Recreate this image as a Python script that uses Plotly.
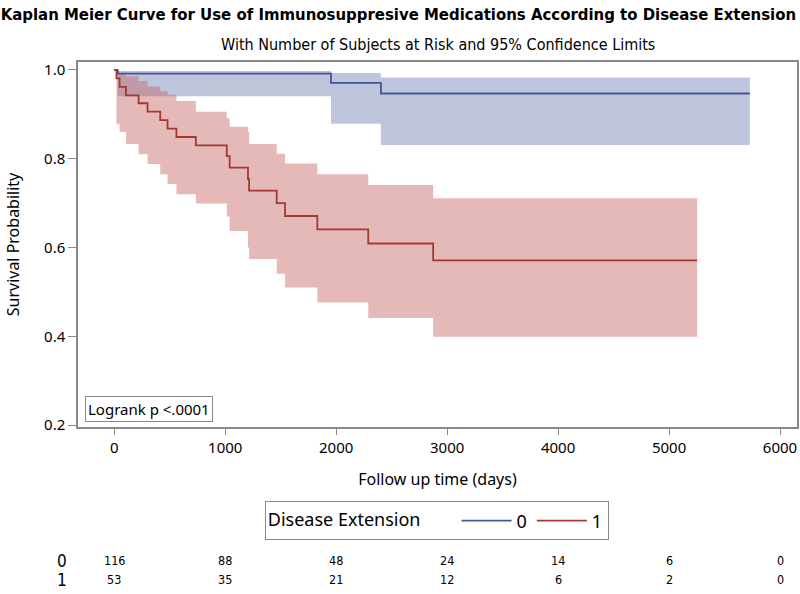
import plotly.graph_objects as go

# ---- data ----
# Group 0 (Disease Extension = 0)
times0 = [0, 30, 1953, 2403, 5728]
surv0 = [1.0, 0.992, 0.971, 0.947, 0.947]
upper0 = [1.0, 0.998, 0.993, 0.983, 0.983]
lower0 = [1.0, 0.941, 0.879, 0.831, 0.831]

# Group 1 (Disease Extension = 1)
times1 = [0, 20, 48, 105, 219, 300, 414, 480, 560, 735, 1014, 1040, 1205, 1215,
          1464, 1539, 1830, 2289, 2874, 5253]
surv1 = [1.0, 0.981, 0.962, 0.943, 0.925, 0.906, 0.887, 0.868, 0.849, 0.830,
         0.806, 0.780, 0.754, 0.728, 0.700, 0.671, 0.641, 0.609, 0.571, 0.571]
upper1 = [1.0, 0.997, 0.993, 0.986, 0.975, 0.963, 0.952, 0.944, 0.930, 0.906,
          0.891, 0.872, 0.860, 0.833, 0.811, 0.789, 0.765, 0.741, 0.711, 0.711]
lower1 = [1.0, 0.878, 0.860, 0.833, 0.810, 0.788, 0.765, 0.743, 0.720, 0.699,
          0.670, 0.637, 0.600, 0.574, 0.541, 0.510, 0.476, 0.441, 0.399, 0.399]

# Number at risk table
risk_times = [0, 1000, 2000, 3000, 4000, 5000, 6000]
risk0 = [116, 88, 48, 24, 14, 6, 0]
risk1 = [53, 35, 21, 12, 6, 2, 0]

x_ticks = [0, 1000, 2000, 3000, 4000, 5000, 6000]
y_ticks = [0.2, 0.4, 0.6, 0.8, 1.0]

BLUE_LINE = "#445694"
RED_LINE = "#A23A2E"
BLUE_FILL = "rgba(111,126,179,0.45)"
RED_FILL = "rgba(200,100,100,0.45)"
FONT = "Noto Sans"
NARROW = "DejaVu Sans Condensed"

fig = go.Figure()

# Confidence bands
for t, lo, hi, fillc in [(times0, lower0, upper0, BLUE_FILL),
                         (times1, lower1, upper1, RED_FILL)]:
    fig.add_trace(go.Scatter(x=t, y=lo, mode="lines", line=dict(width=0, shape="hv"),
                             showlegend=False, hoverinfo="skip"))
    fig.add_trace(go.Scatter(x=t, y=hi, mode="lines", line=dict(width=0, shape="hv"),
                             fill="tonexty", fillcolor=fillc, showlegend=False,
                             hoverinfo="skip"))

# Survival curves
fig.add_trace(go.Scatter(x=times0, y=surv0, mode="lines", name="0",
                         line=dict(color=BLUE_LINE, width=1.8, shape="hv")))
fig.add_trace(go.Scatter(x=times1, y=surv1, mode="lines", name="1",
                         line=dict(color=RED_LINE, width=1.8, shape="hv")))

annotations = []
# Subtitle
annotations.append(dict(text="With Number of Subjects at Risk and 95% Confidence Limits",
                        xref="paper", yref="paper", x=0.5, y=1.049,
                        xanchor="center", yanchor="middle", showarrow=False,
                        font=dict(family=NARROW, size=16, color="#000")))
# Logrank box
annotations.append(dict(text="Logrank p <.0001", xref="paper", yref="paper",
                        x=0.0097, y=0.049, xanchor="left", yanchor="middle",
                        showarrow=False, bordercolor="#888", borderwidth=1,
                        borderpad=2, bgcolor="white",
                        font=dict(family=FONT, size=15, color="#000")))
# At-risk table
for lab, row, ypos in [("0", risk0, -0.367), ("1", risk1, -0.419)]:
    annotations.append(dict(text=lab, xref="paper", yref="paper", x=-0.022, y=ypos,
                            xanchor="center", yanchor="middle", showarrow=False,
                            font=dict(family=NARROW, size=17, color="#000")))
    for tx, n in zip(risk_times, row):
        annotations.append(dict(text=str(n), xref="x", yref="paper", x=tx, y=ypos,
                                xanchor="center", yanchor="middle", showarrow=False,
                                font=dict(family=NARROW, size=12.5, color="#000")))

fig.update_layout(
    width=800, height=594,
    margin=dict(l=78, r=3, t=62, b=167, autoexpand=False),
    paper_bgcolor="white", plot_bgcolor="white",
    title=dict(text="<b>Kaplan Meier Curve for Use of Immunosuppresive Medications According to Disease Extension</b>",
               x=0.498, xanchor="center", y=0.976, yanchor="middle",
               font=dict(family=NARROW, size=16.6, color="#000")),
    font=dict(family=FONT, color="#000"),
    showlegend=True,
    legend=dict(orientation="h", x=0.499, y=-0.2575, xanchor="center", yanchor="middle",
                traceorder="normal",
                bordercolor="#888", borderwidth=1, bgcolor="white",
                title=dict(text="Disease Extension      ", side="left",
                           font=dict(family=FONT, size=18, color="#000")),
                font=dict(family=FONT, size=18, color="#000"),
                itemwidth=50),
    annotations=annotations,
)

fig.update_xaxes(range=[-327, 6153], tickvals=x_ticks, ticks="outside", ticklen=6,
                 tickcolor="#888", showline=True, linecolor="#888", linewidth=1.5,
                 mirror=True, showgrid=False, zeroline=False, automargin=False,
                 tickfont=dict(family=FONT, size=15, color="#000"),
                 title=dict(text="Follow up time (days)", standoff=18,
                            font=dict(family=FONT, size=16, color="#000")))
fig.update_yaxes(range=[0.1955, 1.018], tickvals=y_ticks, tickformat=".1f",
                 ticks="outside", ticklen=8, tickcolor="#888", showline=True,
                 linecolor="#888", linewidth=1.5, mirror=True, showgrid=False,
                 zeroline=False, automargin=False,
                 tickfont=dict(family=FONT, size=15, color="#000"),
                 title=dict(text="Survival Probability", standoff=20,
                            font=dict(family=FONT, size=16, color="#000")))

fig.write_html("out.html", config={"displayModeBar": False},
               post_script="document.body.style.margin='0';document.body.style.overflow='hidden';")
